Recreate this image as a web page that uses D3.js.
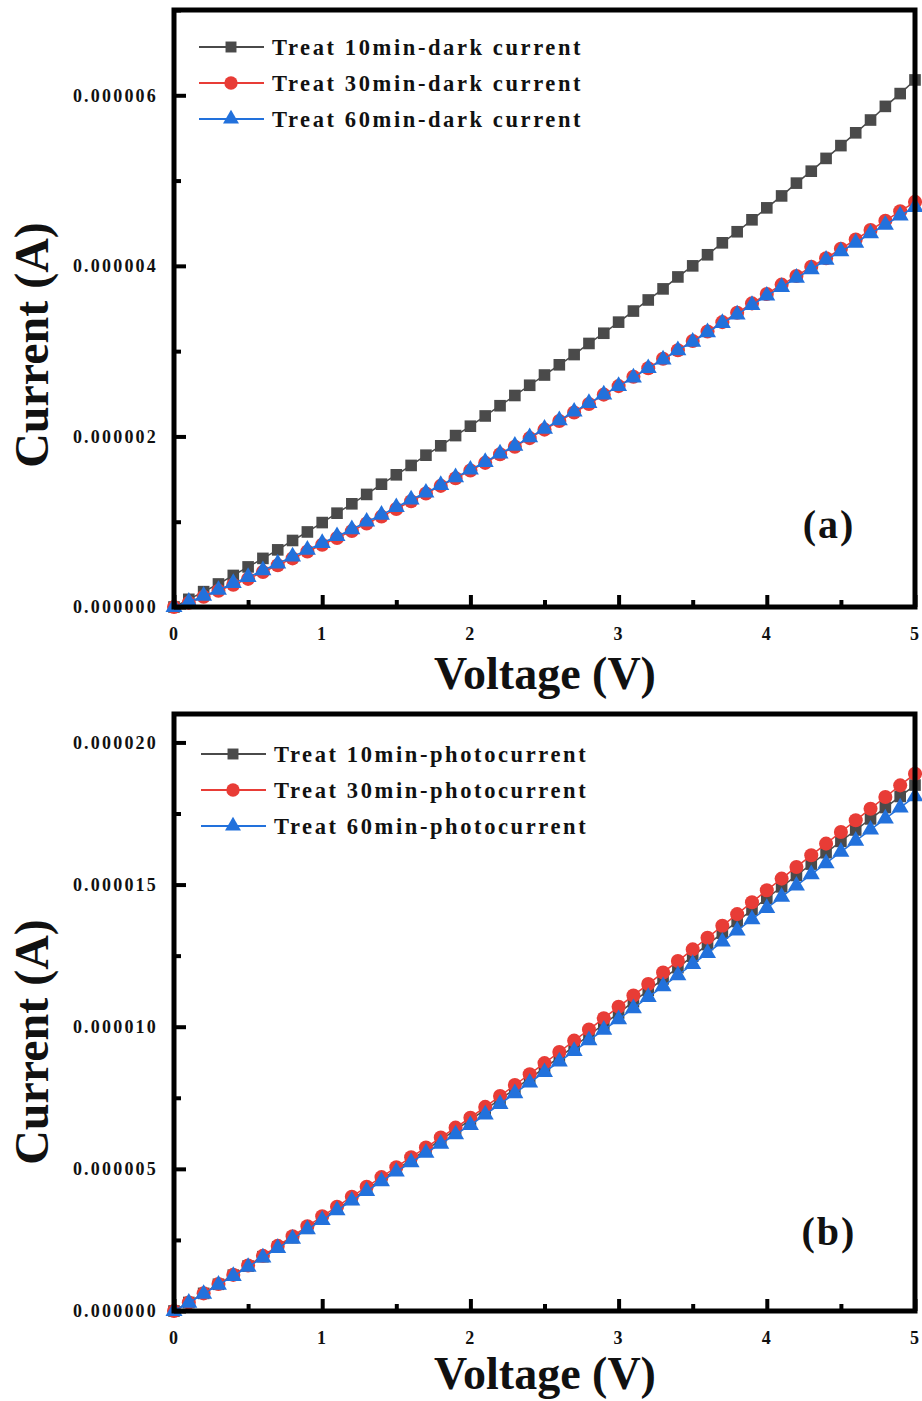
<!DOCTYPE html>
<html lang="en">
<head>
<meta charset="UTF-8">
<script src="https://d3js.org/d3.v7.min.js"></script>
<style>
  body { margin: 0; background: #fff; }
  text { font-family: "Liberation Serif", "Times New Roman", serif; font-weight: bold; fill: #111; }
</style>
</head>
<body>
<div class="chart"></div>
<script>
// voltage steps (V)
var voltage = [0.0,0.1,0.2,0.3,0.4,0.5,0.6,0.7,0.8,0.9,1.0,1.1,1.2,1.3,1.4,1.5,1.6,1.7,1.8,1.9,2.0,
  2.1,2.2,2.3,2.4,2.5,2.6,2.7,2.8,2.9,3.0,3.1,3.2,3.3,3.4,3.5,3.6,3.7,3.8,3.9,4.0,
  4.1,4.2,4.3,4.4,4.5,4.6,4.7,4.8,4.9,5.0]

// dark current, in units of 1e-6 A
var dark10 = [0.00,0.09,0.18,0.27,0.37,0.47,0.57,0.67,0.78,0.88,0.99,1.10,1.21,1.32,1.44,1.55,1.66,1.78,1.89,2.01,2.12,
  2.24,2.36,2.48,2.60,2.72,2.84,2.96,3.09,3.21,3.34,3.47,3.60,3.73,3.87,4.00,4.13,4.27,4.40,4.54,4.68,
  4.82,4.97,5.11,5.26,5.41,5.56,5.71,5.87,6.02,6.18]
var dark30 = [0.00,0.05,0.12,0.19,0.26,0.33,0.41,0.49,0.57,0.65,0.73,0.81,0.89,0.98,1.06,1.15,1.24,1.33,1.42,1.51,1.60,
  1.69,1.79,1.88,1.98,2.08,2.18,2.28,2.38,2.49,2.59,2.70,2.80,2.91,3.01,3.12,3.23,3.34,3.45,3.56,3.67,
  3.78,3.88,3.99,4.09,4.20,4.31,4.42,4.53,4.64,4.75]
var dark60 = [0.00,0.06,0.13,0.20,0.28,0.35,0.43,0.51,0.59,0.67,0.75,0.83,0.91,1.00,1.08,1.17,1.26,1.34,1.43,1.52,1.61,
  1.70,1.80,1.89,1.99,2.09,2.19,2.29,2.39,2.49,2.59,2.69,2.80,2.90,3.01,3.11,3.22,3.33,3.43,3.54,3.65,
  3.75,3.86,3.96,4.07,4.17,4.27,4.38,4.48,4.59,4.69]

// photocurrent, in units of 1e-6 A
var photo10 = [0.00,0.30,0.62,0.94,1.26,1.58,1.91,2.25,2.58,2.91,3.25,3.59,3.93,4.28,4.62,4.97,5.32,5.67,6.02,6.37,6.72,
  7.08,7.45,7.81,8.18,8.55,8.93,9.31,9.70,10.09,10.48,10.88,11.28,11.68,12.08,12.48,12.89,13.29,13.70,14.11,14.52,
  14.92,15.32,15.72,16.12,16.52,16.92,17.31,17.71,18.10,18.50]
var photo30 = [0.00,0.30,0.62,0.95,1.27,1.60,1.94,2.29,2.63,2.98,3.33,3.67,4.02,4.37,4.71,5.06,5.41,5.75,6.10,6.45,6.80,
  7.18,7.56,7.95,8.33,8.72,9.11,9.51,9.90,10.30,10.70,11.10,11.50,11.91,12.31,12.72,13.13,13.55,13.96,14.38,14.80,
  15.21,15.62,16.03,16.44,16.85,17.26,17.67,18.08,18.49,18.90]
var photo60 = [0.00,0.29,0.60,0.92,1.23,1.55,1.88,2.21,2.54,2.87,3.20,3.54,3.88,4.22,4.56,4.90,5.23,5.56,5.88,6.21,6.54,
  6.91,7.28,7.66,8.03,8.40,8.77,9.14,9.52,9.89,10.26,10.65,11.04,11.42,11.81,12.20,12.59,12.99,13.38,13.78,14.17,
  14.57,14.96,15.36,15.75,16.15,16.54,16.93,17.32,17.71,18.10]

var darkNames = ["Treat 10min-dark current", "Treat 30min-dark current", "Treat 60min-dark current"]
var photoNames = ["Treat 10min-photocurrent", "Treat 30min-photocurrent", "Treat 60min-photocurrent"]

var xTicks = [0, 1, 2, 3, 4, 5]
var xMinor = [0.5, 1.5, 2.5, 3.5, 4.5]
var darkTicks = [0, 2, 4, 6]
var darkMinor = [1, 3, 5, 7]
var photoTicks = [0, 5, 10, 15, 20]
var photoMinor = [2.5, 7.5, 12.5, 17.5]

var colors = ["#4a4a4a", "#e83c36", "#2271dc"]
var symbols = [d3.symbolSquare, d3.symbolCircle, d3.symbolTriangle]
var symSize = [135, 155, 125]

var width = 922, height = 1401
var svg = d3.select(".chart").append("svg")
    .attr("width", width)
    .attr("height", height)

var x = d3.scaleLinear().domain([0, 5]).range([174, 915])

function drawPanel(cfg) {
    var y = d3.scaleLinear().domain(cfg.domain).range([cfg.bottom, cfg.top])
    var g = svg.append("g")

    // series: line + markers
    cfg.series.forEach(function (vals, i) {
        var pts = voltage.map(function (v, j) { return [v, vals[j]] })
        g.append("path")
            .datum(pts)
            .attr("fill", "none")
            .attr("stroke", colors[i])
            .attr("stroke-width", 1.5)
            .attr("d", d3.line().x(function (d) { return x(d[0]) }).y(function (d) { return y(d[1]) }))
        g.selectAll(null)
            .data(pts)
            .enter().append("path")
            .attr("transform", function (d) { return "translate(" + x(d[0]) + "," + y(d[1]) + ")" })
            .attr("d", d3.symbol().type(symbols[i]).size(symSize[i]))
            .attr("fill", colors[i])
    })

    // axes with inward ticks
    g.append("g").attr("transform", "translate(174,0)")
        .call(d3.axisLeft(y).tickValues(cfg.ticks).tickSize(-12).tickPadding(16)
            .tickFormat(function (d) { return (d * 1e-6).toFixed(6) }))
    g.append("g").attr("transform", "translate(174,0)")
        .call(d3.axisLeft(y).tickValues(cfg.minor).tickSize(-7).tickFormat(""))
    g.append("g").attr("transform", "translate(0," + cfg.bottom + ")")
        .call(d3.axisBottom(x).tickValues(xTicks).tickSize(-12).tickPadding(20).tickFormat(d3.format("d")))
    g.append("g").attr("transform", "translate(0," + cfg.bottom + ")")
        .call(d3.axisBottom(x).tickValues(xMinor).tickSize(-7).tickFormat(""))

    g.selectAll(".domain").remove()
    g.selectAll(".tick line").attr("stroke", "#000").attr("stroke-width", 4)
    g.selectAll(".tick text").style("font-size", "18px").style("letter-spacing", "2.2px")
        .style("font-family", "Liberation Serif").style("font-weight", "bold").attr("fill", "#1a1a1a")

    // frame
    g.append("rect")
        .attr("x", 174).attr("y", cfg.top)
        .attr("width", 915 - 174).attr("height", cfg.bottom - cfg.top)
        .attr("fill", "none").attr("stroke", "#000").attr("stroke-width", 5)

    // axis titles
    g.append("text")
        .attr("transform", "translate(31," + cfg.ylabelY + ") rotate(-90)")
        .attr("text-anchor", "middle").attr("dy", "0.35em")
        .style("font-size", "48px")
        .text("Current (A)")
    g.append("text")
        .attr("x", 545).attr("y", cfg.bottom + cfg.xlabelOff)
        .attr("text-anchor", "middle")
        .style("font-size", "46px")
        .text("Voltage (V)")

    // panel tag
    g.append("text")
        .attr("x", 829).attr("y", cfg.tagY)
        .attr("text-anchor", "middle")
        .style("font-size", "40px").style("letter-spacing", "2px")
        .text(cfg.tag)

    // legend
    cfg.names.forEach(function (name, i) {
        var ly = cfg.legendY + i * 36
        g.append("line")
            .attr("x1", cfg.legendX).attr("x2", cfg.legendX + 65)
            .attr("y1", ly).attr("y2", ly)
            .attr("stroke", colors[i]).attr("stroke-width", 2)
        g.append("path")
            .attr("transform", "translate(" + (cfg.legendX + 32) + "," + ly + ")")
            .attr("d", d3.symbol().type(symbols[i]).size(symSize[i] - 15))
            .attr("fill", colors[i])
        g.append("text")
            .attr("x", cfg.legendX + 73).attr("y", ly + 8)
            .style("font-size", "22.5px").style("letter-spacing", "2.6px")
            .attr("fill", "#161616")
            .text(name)
    })
}

drawPanel({
    domain: [0, 7], top: 10, bottom: 607,
    ticks: darkTicks, minor: darkMinor,
    series: [dark10, dark30, dark60], names: darkNames,
    legendX: 199, legendY: 47, tag: "(a)", tagY: 538, ylabelY: 345, xlabelOff: 82
})

drawPanel({
    domain: [0, 21], top: 714, bottom: 1311,
    ticks: photoTicks, minor: photoMinor,
    series: [photo10, photo30, photo60], names: photoNames,
    legendX: 201, legendY: 754, tag: "(b)", tagY: 1245, ylabelY: 1042, xlabelOff: 78
})
</script>
</body>
</html>
